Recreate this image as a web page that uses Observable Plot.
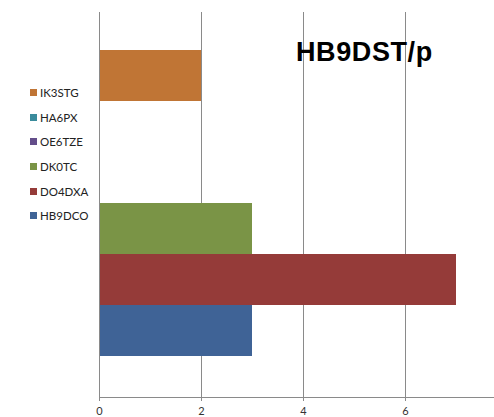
<!DOCTYPE html>
<html><head><meta charset="utf-8">
<script src="https://cdn.jsdelivr.net/npm/d3@7"></script>
<script src="https://cdn.jsdelivr.net/npm/@observablehq/plot@0.6"></script>
<style>
body{margin:0;background:#fff;}
#wrap{position:relative;width:494px;height:417px;overflow:hidden;background:#fff;}
#wrap svg{position:absolute;left:0;top:0;overflow:hidden;}
#title{position:absolute;left:296px;top:39px;font:bold 27px "Liberation Sans",Arial,sans-serif;line-height:27px;letter-spacing:0.6px;color:#000;white-space:nowrap;}
#legend{position:absolute;left:30px;top:85px;font:11.5px Lato,"Open Sans",sans-serif;color:#222;}
#legend .row{height:24.7px;display:flex;align-items:flex-start;}
#legend .sw{width:7px;height:7px;margin-top:4px;margin-right:3px;}
#legend .lab{line-height:15px;}
</style></head><body><div id="wrap"></div>
<script>
// Data
const stations = ["IK3STG","HA6PX","OE6TZE","DK0TC","DO4DXA","HB9DCO"]; // top to bottom
const qsos = [2, 0, 0, 3, 7, 3];
const colors = ["#C07535","#3A8B9C","#634D8A","#7A9446","#953B39","#3F6396"];
const gridTicks = [2, 4, 6, 8];
const tickLabels = [0, 2, 4, 6];
const title = "HB9DST/p";

const data = stations.map((s, i) => ({station: s, value: qsos[i]}));

const chart = Plot.plot({
  width: 494,
  height: 417,
  marginTop: 12,
  marginBottom: 20,
  marginLeft: 99,
  marginRight: 0,
  style: {background: "transparent", fontFamily: "Lato, 'Open Sans', sans-serif"},
  x: {domain: [0, 8], range: [99, 507], axis: null, label: null},
  y: {domain: stations, padding: 0, insetTop: 38, insetBottom: 41, axis: null, label: null},
  color: {domain: stations, range: colors},
  marks: [
    Plot.gridX(gridTicks, {stroke: "#8a8a8a", strokeOpacity: 1}),
    Plot.barX(data, {x: "value", y: "station", fill: "station"}),
    Plot.ruleX([0], {stroke: "#8a8a8a"}),
    Plot.frame({anchor: "bottom", stroke: "#8a8a8a"}),
    Plot.axisX(tickLabels, {label: null, tickSize: 4, tickPadding: 6, fontSize: 11, stroke: "#8a8a8a", fill: "#333", strokeOpacity: 1})
  ]
});

const wrap = document.getElementById("wrap");
wrap.appendChild(chart);

const t = document.createElement("div");
t.id = "title";
t.textContent = title;
wrap.appendChild(t);

const legend = document.createElement("div");
legend.id = "legend";
stations.forEach((s, i) => {
  const row = document.createElement("div");
  row.className = "row";
  const sw = document.createElement("div");
  sw.className = "sw";
  sw.style.background = colors[i];
  const lab = document.createElement("span");
  lab.className = "lab";
  lab.textContent = s;
  row.appendChild(sw); row.appendChild(lab);
  legend.appendChild(row);
});
wrap.appendChild(legend);
</script>
</body></html>
